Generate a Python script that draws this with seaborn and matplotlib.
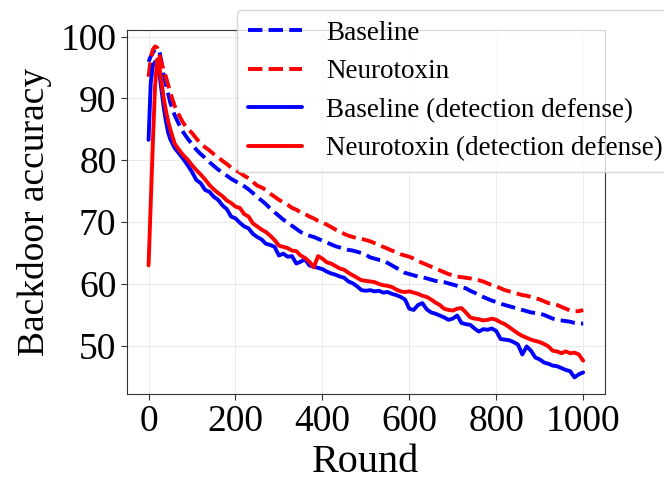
import pandas as pd
import matplotlib
matplotlib.use('Agg')
import matplotlib.pyplot as plt
import seaborn as sns

# rounds (x axis), finer at the start where the curves peak
rounds = [0, 5, 10, 15, 20, 25, 30, 35, 40, 45, 50] + list(range(60, 1001, 10))

baseline = [95.9, 96.8, 97.4, 97.9, 98.0, 97.6, 95.8, 93.6, 92.2, 90.8, 89.3,
            87.3, 85.8, 84.5, 83.5, 82.6, 81.7, 81.0, 80.4, 79.7, 79.1, 78.5, 78.0, 77.5, 77.0,
            76.6, 76.2, 75.8, 75.3, 74.7, 74.0, 73.5, 72.9, 72.2, 71.6, 71.0, 70.4, 69.9, 69.4,
            68.9, 68.4, 68.1, 67.8, 67.6, 67.3, 67.0, 66.7, 66.4, 66.1, 65.9, 65.7, 65.5, 65.4,
            65.2, 65.0, 64.7, 64.3, 64.1, 63.9, 63.8, 63.4, 63.0, 62.6, 62.2, 61.8, 61.6, 61.4,
            61.2, 61.1, 60.9, 60.7, 60.5, 60.4, 60.3, 60.1, 59.9, 59.7, 59.5, 59.3, 58.9, 58.6,
            58.2, 57.9, 57.6, 57.3, 57.1, 56.8, 56.6, 56.4, 56.2, 56.0, 55.8, 55.6, 55.4, 55.3,
            55.2, 55.0, 54.7, 54.4, 54.2, 54.1, 54.0, 53.9, 53.7, 53.6, 53.6]

neurotoxin = [93.5, 96.5, 97.9, 98.4, 98.2, 97.0, 95.7, 94.5, 93.5, 92.2, 90.9,
              88.8, 87.3, 86.0, 85.1, 84.4, 83.5, 82.7, 82.1, 81.6, 81.0, 80.5, 79.9, 79.4, 78.8,
              78.4, 78.0, 77.5, 77.1, 76.5, 75.9, 75.6, 75.2, 74.6, 74.1, 73.6, 73.2, 72.8, 72.3,
              72.0, 71.6, 71.3, 70.9, 70.6, 70.2, 69.9, 69.6, 69.2, 68.8, 68.5, 68.1, 67.8, 67.6,
              67.4, 67.3, 67.1, 66.9, 66.6, 66.3, 66.0, 65.7, 65.4, 65.1, 64.8, 64.6, 64.4, 64.1,
              63.7, 63.4, 63.1, 62.8, 62.5, 62.2, 61.9, 61.6, 61.4, 61.2, 61.1, 61.0, 60.9, 60.7,
              60.6, 60.4, 60.1, 59.8, 59.6, 59.3, 59.0, 58.8, 58.6, 58.4, 58.2, 58.1, 57.9, 57.7,
              57.5, 57.2, 56.9, 56.8, 56.6, 56.3, 56.0, 55.7, 55.6, 55.6, 55.8]

baseline_det = [83.3, 92.5, 95.3, 95.9, 95.7, 94.0, 91.2, 88.5, 86.3, 84.5, 83.4,
                82.0, 81.1, 80.2, 79.2, 78.1, 76.8, 76.3, 75.2, 74.9, 74.1, 73.6, 72.7, 72.1, 70.9,
                70.6, 69.9, 69.3, 69.0, 68.1, 67.6, 67.2, 66.5, 66.3, 66.0, 64.6, 64.9, 64.4, 64.5,
                63.3, 63.6, 64.0, 63.0, 62.8, 62.6, 62.4, 62.0, 61.7, 61.5, 61.2, 61.0, 60.4, 60.1,
                59.6, 59.0, 58.9, 59.0, 58.8, 58.9, 58.6, 58.7, 58.4, 58.2, 57.9, 57.5, 56.0, 55.8,
                56.6, 56.9, 55.9, 55.4, 55.2, 54.9, 54.6, 54.2, 54.4, 54.9, 53.7, 53.5, 53.4, 52.8,
                52.3, 52.7, 52.6, 52.8, 52.4, 51.1, 51.0, 50.9, 50.6, 50.2, 48.6, 49.9, 49.2, 48.1,
                47.8, 47.3, 47.1, 46.8, 46.7, 46.4, 46.1, 45.9, 44.9, 45.4, 45.7]

neurotoxin_det = [63.0, 73.0, 83.0, 92.0, 96.3, 95.0, 92.5, 90.0, 88.0, 86.3, 85.0,
                  82.7, 81.7, 80.8, 80.1, 79.2, 78.4, 77.7, 76.9, 76.0, 75.3, 74.7, 74.2, 73.5, 73.1,
                  72.5, 72.3, 71.3, 70.9, 69.8, 69.3, 68.8, 68.4, 67.8, 67.1, 66.2, 66.0, 65.8, 65.4,
                  65.3, 64.6, 64.2, 63.6, 62.7, 64.5, 64.1, 63.5, 63.3, 62.9, 62.5, 62.3, 61.8, 61.4,
                  61.0, 60.6, 60.5, 60.4, 60.3, 60.0, 59.8, 59.7, 59.5, 59.1, 58.8, 58.7, 58.8, 58.6,
                  58.4, 58.1, 57.9, 57.5, 57.0, 56.6, 56.0, 55.8, 55.7, 56.0, 56.1, 55.4, 54.6, 54.4,
                  54.3, 54.1, 54.2, 54.4, 54.2, 53.8, 53.5, 53.0, 52.5, 52.0, 51.6, 51.3, 51.0, 50.8,
                  50.6, 50.3, 49.9, 49.2, 49.1, 48.8, 49.1, 48.8, 48.9, 48.6, 47.6]

df = pd.DataFrame({'Round': rounds,
                   'Baseline': baseline,
                   'Neurotoxin': neurotoxin,
                   'Baseline (detection defense)': baseline_det,
                   'Neurotoxin (detection defense)': neurotoxin_det})

sns.set_style('whitegrid', {'axes.edgecolor': '0.2', 'grid.color': '0.9',
                            'xtick.bottom': True, 'ytick.left': True,
                            'text.color': 'black', 'axes.labelcolor': 'black',
                            'xtick.color': 'black', 'ytick.color': 'black'})
plt.rcParams['font.family'] = ['Liberation Serif', 'DejaVu Serif']

fig = plt.figure(figsize=(6.64, 4.98), dpi=100)
ax = fig.add_axes([0.191, 0.209, 0.72, 0.731])

styles = [('Baseline', 'blue', '--'),
          ('Neurotoxin', 'red', '--'),
          ('Baseline (detection defense)', 'blue', '-'),
          ('Neurotoxin (detection defense)', 'red', '-')]
for name, col, ls in styles:
    sns.lineplot(data=df, x='Round', y=name, color=col, linestyle=ls,
                 linewidth=2.8, label=name, ax=ax)

ax.grid(True, linewidth=0.6)
ax.set_xticks([0, 200, 400, 600, 800, 1000])
ax.set_yticks([50, 60, 70, 80, 90, 100])
ax.tick_params(labelsize=27, length=4, color='0.2')
ax.set_xlabel('Round', fontsize=29, labelpad=4)
ax.set_ylabel('Backdoor accuracy', fontsize=27, labelpad=6)

ax.legend(loc='upper left', bbox_to_anchor=(237 / 664, 1 - 10 / 498),
          bbox_transform=fig.transFigure, borderaxespad=0, fontsize=19.5,
          labelspacing=0.5, handletextpad=0.9, frameon=True, framealpha=0.8)

fig.savefig('out.png', dpi=100)
